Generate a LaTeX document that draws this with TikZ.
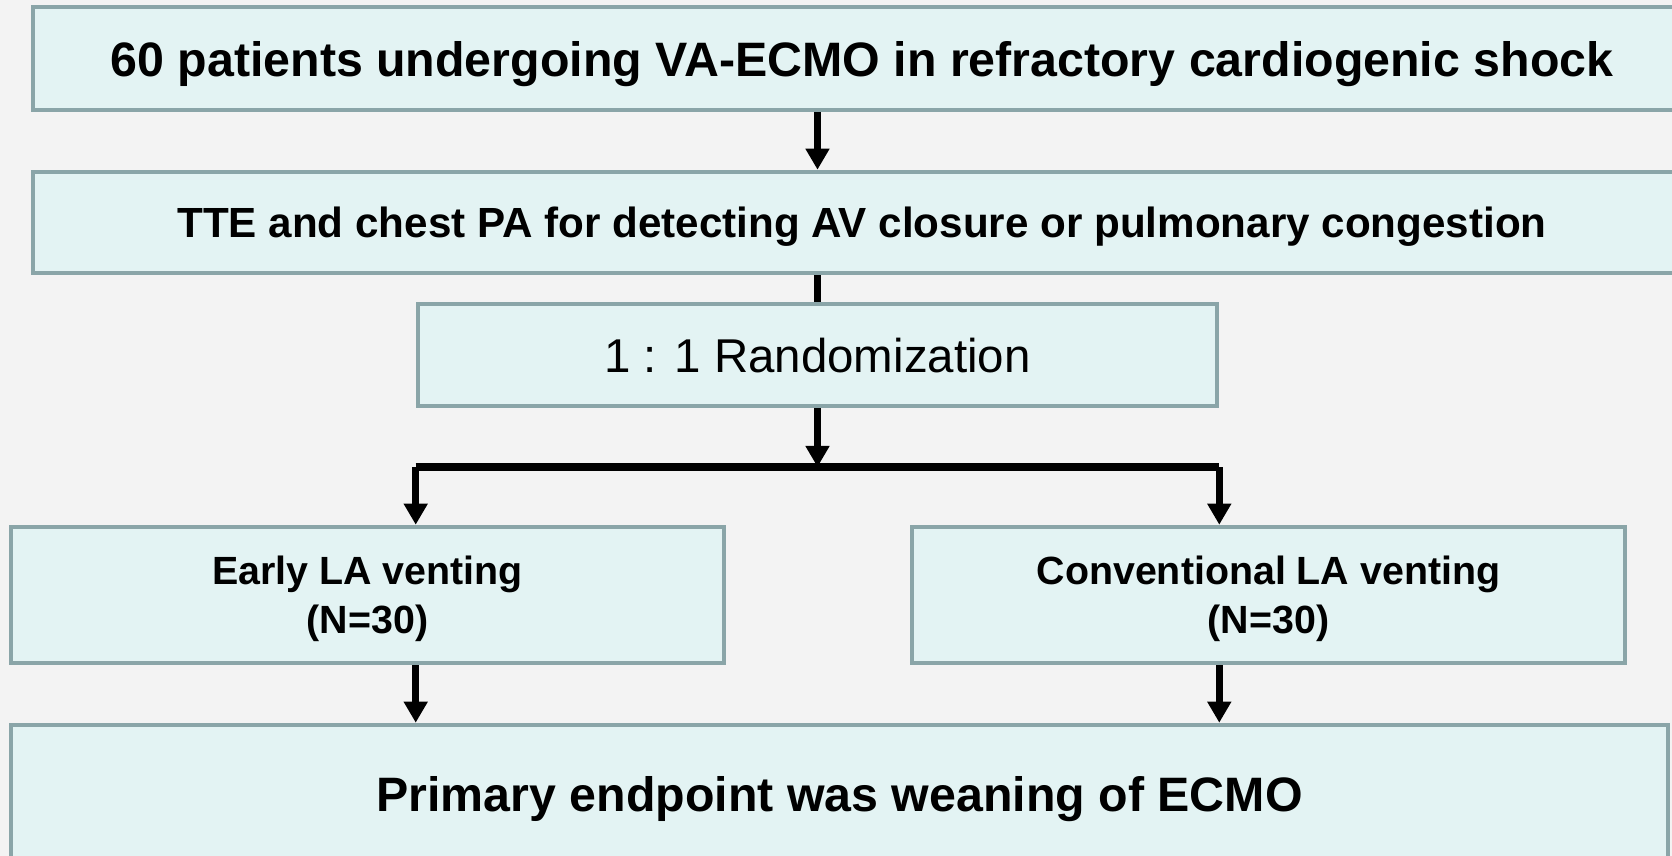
\documentclass[tikz,border=0pt]{standalone}
\usepackage{fontspec}
\setmainfont{Liberation Sans}
\usetikzlibrary{arrows.meta}
\definecolor{pagebg}{HTML}{F3F3F3}
\definecolor{boxfill}{HTML}{E3F3F3}
\definecolor{boxline}{HTML}{8AA5A8}
\tikzset{
  box/.style={draw=boxline, fill=boxfill, line width=2.6pt, inner sep=0pt,
    align=center, text depth=0pt},
  flow/.style={line width=4pt, -{Triangle[width=13pt,length=12pt]}},
  link/.style={line width=4pt}
}
\begin{document}
\begin{tikzpicture}
  \clip (0,0) rectangle (33.44,-17.12);
  \fill[pagebg] (0,0) rectangle (33.44,-17.12);
  \node[box, minimum width=33.16cm, minimum height=2.06cm,
    font=\fontsize{27.5}{33}\selectfont\bfseries] (patients) at (17.24,-1.17)
    {60 patients undergoing VA-ECMO in refractory cardiogenic shock};
  \node[box, minimum width=33.16cm, minimum height=2.02cm,
    font=\fontsize{24}{29}\selectfont\bfseries] (tte) at (17.24,-4.45)
    {TTE and chest PA for detecting AV closure or pulmonary congestion};
  \node[box, minimum width=15.98cm, minimum height=2.04cm,
    font=\fontsize{27}{32}\selectfont] (rand) at (16.35,-7.10)
    {1 : 1 Randomization};
  \node[box, minimum width=14.26cm, minimum height=2.72cm,
    font=\fontsize{22.4}{28}\selectfont\bfseries] (early) at (7.35,-11.90)
    {Early LA venting\\(N=30)};
  \node[box, minimum width=14.26cm, minimum height=2.72cm,
    font=\fontsize{22.4}{28}\selectfont\bfseries] (conv) at (25.37,-11.90)
    {Conventional LA venting\\(N=30)};
  \node[box, minimum width=33.14cm, minimum height=2.76cm,
    font=\fontsize{27.5}{33}\selectfont\bfseries] (primary) at (16.79,-15.88)
    {Primary endpoint was weaning of ECMO};
  \coordinate (split) at (16.35,-9.34);
  \draw[flow] (rand.north |- patients.south) -- (rand.north |- tte.north);
  \draw[link] (rand.north |- tte.south) -- (rand.north);
  \draw[flow] (rand.south) -- (split);
  \draw[link] (rand.west |- split) -- (rand.east |- split);
  \draw[flow] (rand.west |- split) -- (rand.west |- early.north);
  \draw[flow] (rand.east |- split) -- (rand.east |- conv.north);
  \draw[flow] (rand.west |- early.south) -- (rand.west |- primary.north);
  \draw[flow] (rand.east |- conv.south) -- (rand.east |- primary.north);
\end{tikzpicture}
\end{document}
